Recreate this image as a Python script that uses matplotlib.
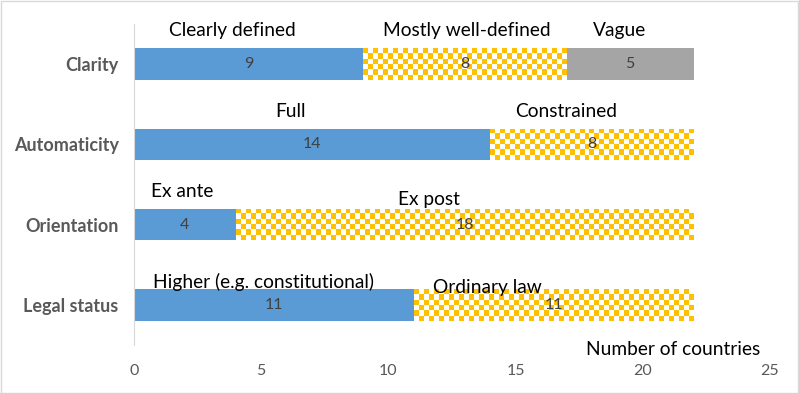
import numpy as np
import matplotlib
matplotlib.use('Agg')
import matplotlib.pyplot as plt
from matplotlib.patches import Rectangle

categories = ['Clarity', 'Automaticity', 'Orientation', 'Legal status']
first = [9, 14, 4, 11]
second = [8, 8, 18, 11]
third = [5, 0, 0, 0]

seg_names = [
    ['Clearly defined', 'Mostly well-defined', 'Vague'],
    ['Full', 'Constrained'],
    ['Ex ante', 'Ex post'],
    ['Higher (e.g. constitutional)', 'Ordinary law'],
]
# where the segment names sit (x in data units, y offset from bar centre)
name_pos = [
    [(3.86, -0.42), (13.1, -0.42), (19.1, -0.42)],
    [(6.15, -0.41), (17.0, -0.41)],
    [(1.9, -0.41), (11.6, -0.31)],
    [(5.1, -0.28), (13.9, -0.22)],
]

blue = '#5B9BD5'
yellow = '#FFC000'
grey = '#A5A5A5'

plt.rcParams['font.family'] = ['Lato', 'DejaVu Sans']

fig = plt.figure(figsize=(7.99, 3.93), dpi=100)
ax = fig.add_axes([134/799, 1-345/393, (770-134)/799, (345-24)/393])
fig.patches.append(Rectangle((0.001, 0.001), 0.998, 0.997, transform=fig.transFigure,
                             fill=False, edgecolor='#D9D9D9', lw=1))

y = np.arange(len(categories))
h = 0.39
ax.set_xlim(0, 25)
ax.set_ylim(3.5, -0.5)

b1 = ax.barh(y, first, height=h, color=blue)
b2 = ax.barh(y, second, left=first, height=h, color=yellow)
b3 = ax.barh(y, third, left=np.add(first, second), height=h, color=grey)

# checkerboard fill for the middle segments
fig.canvas.draw()
for p in b2.patches:
    x0, y0, w, hh = p.get_x(), p.get_y(), p.get_width(), p.get_height()
    (px0, py0), (px1, py1) = ax.transData.transform([(x0, y0), (x0 + w, y0 + hh)])
    nx = max(1, int(round(abs(px1 - px0) / 5)))
    ny = max(1, int(round(abs(py1 - py0) / 5)))
    ii, jj = np.indices((ny, nx))
    img = np.ones((ny, nx, 3))
    mask = (ii + jj) % 2 == 0
    img[mask] = matplotlib.colors.to_rgb(yellow)
    im = ax.imshow(img, extent=(x0, x0 + w, y0 + hh, y0), aspect='auto',
                   interpolation='nearest', zorder=2)
    im.set_clip_path(p)
ax.set_xlim(0, 25)
ax.set_ylim(3.5, -0.5)

for bars in (b1, b2, b3):
    for p in bars.patches:
        if p.get_width() > 0:
            ax.text(p.get_x() + p.get_width() / 2, p.get_y() + p.get_height() / 2,
                    str(int(p.get_width())), ha='center', va='center',
                    fontsize=11.5, color='#404040', zorder=5)

for i, names in enumerate(seg_names):
    for name, (xx, dy) in zip(names, name_pos[i]):
        ax.text(xx, y[i] + dy, name, ha='center', va='center', fontsize=13.8,
                color='black', zorder=5)

ax.set_yticks(y)
ax.set_yticklabels(categories, fontweight='bold', fontsize=13, color='#595959')
ax.set_xticks(range(0, 26, 5))
ax.tick_params(axis='x', length=0, labelsize=11.5, labelcolor='#595959', pad=14)
ax.tick_params(axis='y', length=0, pad=11)
for s in ['top', 'right', 'bottom']:
    ax.spines[s].set_visible(False)
ax.spines['left'].set_color('#D9D9D9')
ax.text(21.2, 3.56, 'Number of countries', ha='center', va='center',
        fontsize=13.8, color='black')

fig.savefig('out.png', dpi=100)
